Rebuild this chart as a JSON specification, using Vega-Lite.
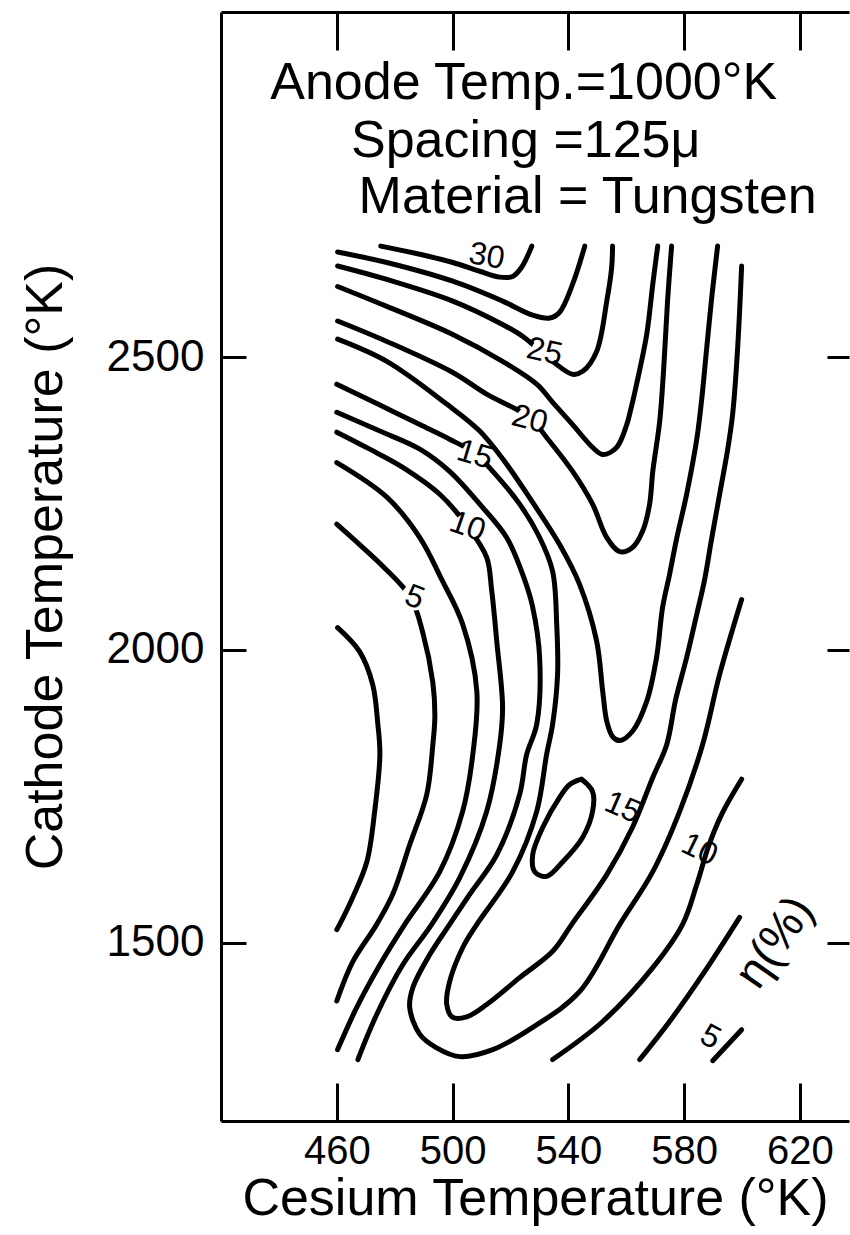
{
"$schema": "https://vega.github.io/schema/vega-lite/v6.json",
"width": 628, "height": 1109,
"autosize": {"type": "none"},
"padding": {"left": 221, "top": 12, "right": 1, "bottom": 114},
"background": "white",
"config": {"view": {"stroke": null}, "font": "Liberation Sans",
 "axis": {"grid": false, "domainColor": "black", "domainWidth": 3, "tickColor": "black", "tickWidth": 3, "labelColor": "black", "titleColor": "black", "labelFont": "Liberation Sans", "titleFont": "Liberation Sans", "titleFontWeight": "normal", "labelFlush": false}},
"datasets": {
 "contours": [
{"c":"30","i":0,"x":475.2,"y":2690},{"c":"30","i":1,"x":488.7,"y":2676},{"c":"30","i":2,"x":500.1,"y":2662},{"c":"30","i":3,"x":509.4,"y":2647},{"c":"30","i":4,"x":516.3,"y":2637},{"c":"30","i":5,"x":520.8,"y":2638},{"c":"30","i":6,"x":523.9,"y":2654},{"c":"30","i":7,"x":527.4,"y":2690},
{"c":"27.5","i":0,"x":460.3,"y":2680},{"c":"27.5","i":1,"x":477.3,"y":2662},{"c":"27.5","i":2,"x":500.1,"y":2630},{"c":"27.5","i":3,"x":517.3,"y":2596},{"c":"27.5","i":4,"x":527.7,"y":2572},{"c":"27.5","i":5,"x":533.6,"y":2567},{"c":"27.5","i":6,"x":537.0,"y":2577},{"c":"27.5","i":7,"x":541.5,"y":2625},{"c":"27.5","i":8,"x":545.7,"y":2690},
{"c":"25","i":0,"x":460.3,"y":2656},{"c":"25","i":1,"x":477.3,"y":2633},{"c":"25","i":2,"x":500.1,"y":2596},{"c":"25","i":3,"x":517.3,"y":2556},{"c":"25","i":4,"x":524.2,"y":2536},{"c":"25","i":5,"x":534.6,"y":2493},{"c":"25","i":6,"x":541.5,"y":2471},{"c":"25","i":7,"x":545.0,"y":2476},{"c":"25","i":8,"x":549.8,"y":2510},{"c":"25","i":9,"x":553.3,"y":2596},{"c":"25","i":10,"x":555.0,"y":2654},{"c":"25","i":11,"x":555.3,"y":2690},
{"c":"22.5","i":0,"x":460.3,"y":2621},{"c":"22.5","i":1,"x":477.3,"y":2587},{"c":"22.5","i":2,"x":500.1,"y":2539},{"c":"22.5","i":3,"x":517.3,"y":2493},{"c":"22.5","i":4,"x":529.1,"y":2454},{"c":"22.5","i":5,"x":534.6,"y":2423},{"c":"22.5","i":6,"x":541.5,"y":2385},{"c":"22.5","i":7,"x":548.4,"y":2346},{"c":"22.5","i":8,"x":551.9,"y":2334},{"c":"22.5","i":9,"x":556.7,"y":2346},{"c":"22.5","i":10,"x":560.2,"y":2385},{"c":"22.5","i":11,"x":561.6,"y":2411},{"c":"22.5","i":12,"x":563.6,"y":2454},{"c":"22.5","i":13,"x":567.1,"y":2539},{"c":"22.5","i":14,"x":569.2,"y":2625},{"c":"22.5","i":15,"x":570.9,"y":2690},
{"c":"20","i":0,"x":460.3,"y":2562},{"c":"20","i":1,"x":477.3,"y":2527},{"c":"20","i":2,"x":500.1,"y":2474},{"c":"20","i":3,"x":511.8,"y":2437},{"c":"20","i":4,"x":526.7,"y":2397},{"c":"20","i":5,"x":532.5,"y":2363},{"c":"20","i":6,"x":541.5,"y":2305},{"c":"20","i":7,"x":548.4,"y":2249},{"c":"20","i":8,"x":553.3,"y":2192},{"c":"20","i":9,"x":557.8,"y":2168},{"c":"20","i":10,"x":562.2,"y":2175},{"c":"20","i":11,"x":565.7,"y":2203},{"c":"20","i":12,"x":568.1,"y":2249},{"c":"20","i":13,"x":569.2,"y":2305},{"c":"20","i":14,"x":571.6,"y":2391},{"c":"20","i":15,"x":573.0,"y":2483},{"c":"20","i":16,"x":574.3,"y":2596},{"c":"20","i":17,"x":575.7,"y":2690},
{"c":"17.5","i":0,"x":460.3,"y":2531},{"c":"17.5","i":1,"x":477.3,"y":2493},{"c":"17.5","i":2,"x":498.0,"y":2420},{"c":"17.5","i":3,"x":509.4,"y":2374},{"c":"17.5","i":4,"x":518.0,"y":2322},{"c":"17.5","i":5,"x":527.7,"y":2252},{"c":"17.5","i":6,"x":537.0,"y":2180},{"c":"17.5","i":7,"x":543.9,"y":2112},{"c":"17.5","i":8,"x":549.8,"y":2015},{"c":"17.5","i":9,"x":551.9,"y":1929},{"c":"17.5","i":10,"x":553.3,"y":1878},{"c":"17.5","i":11,"x":555.3,"y":1852},{"c":"17.5","i":12,"x":557.8,"y":1845},{"c":"17.5","i":13,"x":562.2,"y":1861},{"c":"17.5","i":14,"x":567.1,"y":1912},{"c":"17.5","i":15,"x":570.5,"y":1987},{"c":"17.5","i":16,"x":572.6,"y":2073},{"c":"17.5","i":17,"x":575.0,"y":2129},{"c":"17.5","i":18,"x":577.4,"y":2189},{"c":"17.5","i":19,"x":580.9,"y":2266},{"c":"17.5","i":20,"x":584.4,"y":2360},{"c":"17.5","i":21,"x":586.1,"y":2428},{"c":"17.5","i":22,"x":587.8,"y":2514},{"c":"17.5","i":23,"x":589.5,"y":2599},{"c":"17.5","i":24,"x":591.6,"y":2690},
{"c":"15","i":0,"x":460.0,"y":2454},{"c":"15","i":1,"x":474.2,"y":2420},{"c":"15","i":2,"x":488.7,"y":2385},{"c":"15","i":3,"x":499.0,"y":2360},{"c":"15","i":4,"x":507.7,"y":2336},{"c":"15","i":5,"x":513.9,"y":2305},{"c":"15","i":6,"x":523.2,"y":2249},{"c":"15","i":7,"x":530.1,"y":2192},{"c":"15","i":8,"x":534.6,"y":2134},{"c":"15","i":9,"x":536.0,"y":2044},{"c":"15","i":10,"x":536.3,"y":1958},{"c":"15","i":11,"x":534.6,"y":1873},{"c":"15","i":12,"x":532.5,"y":1821},{"c":"15","i":13,"x":529.1,"y":1724},{"c":"15","i":14,"x":520.8,"y":1621},{"c":"15","i":15,"x":508.4,"y":1531},{"c":"15","i":16,"x":503.5,"y":1491},{"c":"15","i":17,"x":499.0,"y":1433},{"c":"15","i":18,"x":498.0,"y":1394},{"c":"15","i":19,"x":500.1,"y":1372},{"c":"15","i":20,"x":504.9,"y":1373},{"c":"15","i":21,"x":511.8,"y":1394},{"c":"15","i":22,"x":523.2,"y":1440},{"c":"15","i":23,"x":534.6,"y":1485},{"c":"15","i":24,"x":541.2,"y":1531},{"c":"15","i":25,"x":553.3,"y":1616},{"c":"15","i":26,"x":562.2,"y":1697},{"c":"15","i":27,"x":569.2,"y":1782},{"c":"15","i":28,"x":574.0,"y":1838},{"c":"15","i":29,"x":577.1,"y":1915},{"c":"15","i":30,"x":580.9,"y":1987},{"c":"15","i":31,"x":584.4,"y":2061},{"c":"15","i":32,"x":587.1,"y":2120},{"c":"15","i":33,"x":589.5,"y":2189},{"c":"15","i":34,"x":592.3,"y":2266},{"c":"15","i":35,"x":595.1,"y":2343},{"c":"15","i":36,"x":596.8,"y":2403},{"c":"15","i":37,"x":598.5,"y":2514},{"c":"15","i":38,"x":599.9,"y":2656},
{"c":"12.5","i":0,"x":460.0,"y":2406},{"c":"12.5","i":1,"x":474.9,"y":2374},{"c":"12.5","i":2,"x":488.7,"y":2343},{"c":"12.5","i":3,"x":499.0,"y":2305},{"c":"12.5","i":4,"x":509.4,"y":2249},{"c":"12.5","i":5,"x":518.7,"y":2192},{"c":"12.5","i":6,"x":524.9,"y":2120},{"c":"12.5","i":7,"x":527.7,"y":2073},{"c":"12.5","i":8,"x":530.1,"y":1987},{"c":"12.5","i":9,"x":529.1,"y":1873},{"c":"12.5","i":10,"x":525.6,"y":1821},{"c":"12.5","i":11,"x":523.2,"y":1753},{"c":"12.5","i":12,"x":515.3,"y":1650},{"c":"12.5","i":13,"x":505.9,"y":1582},{"c":"12.5","i":14,"x":499.0,"y":1531},{"c":"12.5","i":15,"x":492.1,"y":1479},{"c":"12.5","i":16,"x":486.3,"y":1423},{"c":"12.5","i":17,"x":485.2,"y":1389},{"c":"12.5","i":18,"x":488.7,"y":1343},{"c":"12.5","i":19,"x":494.5,"y":1320},{"c":"12.5","i":20,"x":502.5,"y":1305},{"c":"12.5","i":21,"x":513.9,"y":1317},{"c":"12.5","i":22,"x":527.7,"y":1355},{"c":"12.5","i":23,"x":543.9,"y":1416},{"c":"12.5","i":24,"x":557.8,"y":1531},{"c":"12.5","i":25,"x":569.2,"y":1621},{"c":"12.5","i":26,"x":578.5,"y":1724},{"c":"12.5","i":27,"x":586.4,"y":1838},{"c":"12.5","i":28,"x":592.3,"y":1958},{"c":"12.5","i":29,"x":599.9,"y":2086},
{"c":"10a","i":0,"x":460.0,"y":2372},{"c":"10a","i":1,"x":471.4,"y":2343},{"c":"10a","i":2,"x":482.8,"y":2312},{"c":"10a","i":3,"x":495.6,"y":2266},{"c":"10a","i":4,"x":505.2,"y":2211},{"c":"10a","i":5,"x":511.8,"y":2158},{"c":"10a","i":6,"x":513.5,"y":2103},{"c":"10a","i":7,"x":515.3,"y":2014},{"c":"10a","i":8,"x":517.3,"y":1902},{"c":"10a","i":9,"x":516.3,"y":1838},{"c":"10a","i":10,"x":511.8,"y":1724},{"c":"10a","i":11,"x":502.5,"y":1611},{"c":"10a","i":12,"x":492.8,"y":1531},{"c":"10a","i":13,"x":482.8,"y":1462},{"c":"10a","i":14,"x":473.8,"y":1377},{"c":"10a","i":15,"x":467.3,"y":1300},
{"c":"10b","i":0,"x":534.6,"y":1300},{"c":"10b","i":1,"x":551.9,"y":1365},{"c":"10b","i":2,"x":569.2,"y":1457},{"c":"10b","i":3,"x":579.5,"y":1531},{"c":"10b","i":4,"x":584.4,"y":1599},{"c":"10b","i":5,"x":588.5,"y":1665},{"c":"10b","i":6,"x":593.0,"y":1719},{"c":"10b","i":7,"x":599.9,"y":1779},
{"c":"7.5a","i":0,"x":460.0,"y":2320},{"c":"7.5a","i":1,"x":477.3,"y":2261},{"c":"7.5a","i":2,"x":488.7,"y":2192},{"c":"7.5a","i":3,"x":496.3,"y":2120},{"c":"7.5a","i":4,"x":503.5,"y":2044},{"c":"7.5a","i":5,"x":508.4,"y":1929},{"c":"7.5a","i":6,"x":507.0,"y":1821},{"c":"7.5a","i":7,"x":503.5,"y":1724},{"c":"7.5a","i":8,"x":495.6,"y":1621},{"c":"7.5a","i":9,"x":483.5,"y":1531},{"c":"7.5a","i":10,"x":474.9,"y":1462},{"c":"7.5a","i":11,"x":466.9,"y":1389},{"c":"7.5a","i":12,"x":460.3,"y":1317},
{"c":"7.5b","i":0,"x":564.7,"y":1300},{"c":"7.5b","i":1,"x":575.0,"y":1365},{"c":"7.5b","i":2,"x":586.4,"y":1445},{"c":"7.5b","i":3,"x":599.2,"y":1543},
{"c":"5a","i":0,"x":460.0,"y":2215},{"c":"5a","i":1,"x":467.9,"y":2180},{"c":"5a","i":2,"x":475.9,"y":2143},{"c":"5a","i":3,"x":485.5,"y":2090},{"c":"5a","i":4,"x":489.7,"y":2030},{"c":"5a","i":5,"x":493.2,"y":1944},{"c":"5a","i":6,"x":493.9,"y":1886},{"c":"5a","i":7,"x":493.2,"y":1838},{"c":"5a","i":8,"x":491.1,"y":1753},{"c":"5a","i":9,"x":485.2,"y":1667},{"c":"5a","i":10,"x":479.3,"y":1582},{"c":"5a","i":11,"x":473.8,"y":1531},{"c":"5a","i":12,"x":465.5,"y":1467},{"c":"5a","i":13,"x":460.0,"y":1400},
{"c":"5b","i":0,"x":589.9,"y":1298},{"c":"5b","i":1,"x":599.9,"y":1351},
{"c":"2.5","i":0,"x":460.3,"y":2038},{"c":"2.5","i":1,"x":467.9,"y":1997},{"c":"2.5","i":2,"x":472.4,"y":1941},{"c":"2.5","i":3,"x":474.2,"y":1873},{"c":"2.5","i":4,"x":474.9,"y":1821},{"c":"2.5","i":5,"x":473.1,"y":1724},{"c":"2.5","i":6,"x":470.4,"y":1638},{"c":"2.5","i":7,"x":465.5,"y":1577},{"c":"2.5","i":8,"x":461.0,"y":1531},{"c":"2.5","i":9,"x":460.0,"y":1522},
{"c":"17.5i","i":0,"x":544.6,"y":1779},{"c":"17.5i","i":1,"x":548.4,"y":1758},{"c":"17.5i","i":2,"x":548.4,"y":1724},{"c":"17.5i","i":3,"x":545.0,"y":1680},{"c":"17.5i","i":4,"x":538.1,"y":1638},{"c":"17.5i","i":5,"x":532.5,"y":1613},{"c":"17.5i","i":6,"x":528.4,"y":1621},{"c":"17.5i","i":7,"x":527.7,"y":1650},{"c":"17.5i","i":8,"x":531.2,"y":1697},{"c":"17.5i","i":9,"x":537.0,"y":1748},{"c":"17.5i","i":10,"x":540.5,"y":1770},{"c":"17.5i","i":11,"x":544.6,"y":1779}
 ],
 "labels": [
  {"id":"l30","t":"30","x":511.8,"y":2673},
  {"id":"l25","t":"25","x":531.8,"y":2510},
  {"id":"l20","t":"20","x":526.7,"y":2394},
  {"id":"l15a","t":"15","x":507.7,"y":2334},
  {"id":"l10a","t":"10","x":505.2,"y":2211},
  {"id":"l5a","t":"5","x":486.9,"y":2090},
  {"id":"l15b","t":"15","x":558.8,"y":1731},
  {"id":"l10b","t":"10","x":585.4,"y":1659},
  {"id":"l5b","t":"5","x":589.2,"y":1339}
 ],
 "symbol": [{"t":"η(%)","x":611.5,"y":1500}],
 "notes": [
  {"t":"Anode Temp.=1000°K","x":524.6,"y":2968},
  {"t":"Spacing =125μ","x":525.3,"y":2870},
  {"t":"Material = Tungsten","x":546.7,"y":2774}
 ]
},
"layer": [
 {"data": {"name": "contours"},
  "mark": {"type": "line", "color": "black", "strokeWidth": 5, "interpolate": "catmull-rom", "strokeCap": "round", "strokeJoin": "round"},
  "encoding": {
   "x": {"field": "x", "type": "quantitative", "scale": {"domain": [420, 637], "nice": false, "zero": false},
    "axis": {"orient": "bottom", "values": [460, 500, 540, 580, 620], "format": "d", "tickSize": -38, "labelPadding": 48, "labelFontSize": 40, "title": "Cesium Temperature (°K)", "titleFontSize": 52, "titlePadding": 2}},
   "y": {"field": "y", "type": "quantitative", "scale": {"domain": [1195, 3090], "nice": false, "zero": false},
    "axis": {"orient": "left", "values": [1500, 2000, 2500], "format": "d", "tickSize": -25, "labelPadding": 42, "labelFontSize": 44, "title": "Cathode Temperature (°K)", "titleFontSize": 52, "titlePadding": 34}},
   "detail": {"field": "c"},
   "order": {"field": "i", "type": "quantitative"}
  }},
 {"data": {"name": "labels"},
  "transform": [{"filter": {"field": "id", "oneOf": ["l25", "l20", "l15a", "l10a", "l5a"]}}],
  "mark": {"type": "point", "filled": true, "color": "white", "opacity": 1, "size": 700, "strokeWidth": 0},
  "encoding": {
   "x": {"field": "x", "type": "quantitative", "axis": null},
   "y": {"field": "y", "type": "quantitative", "axis": null}
  }},
 {"data": {"name": "labels"},
  "mark": {"type": "text", "fontSize": 32, "color": "black", "align": "center", "baseline": "middle"},
  "encoding": {
   "x": {"field": "x", "type": "quantitative", "axis": null},
   "y": {"field": "y", "type": "quantitative", "axis": null},
   "text": {"field": "t"},
   "angle": {"field": "id", "type": "nominal", "legend": null, "scale": {"domain": ["l30", "l25", "l20", "l15a", "l10a", "l5a", "l15b", "l10b", "l5b"], "range": [10, 28, 35, 62, 62, 58, -62, -65, -60]}}
  }},
 {"data": {"name": "symbol"},
  "mark": {"type": "text", "fontSize": 47, "color": "black", "align": "center", "baseline": "middle", "angle": -55},
  "encoding": {
   "x": {"field": "x", "type": "quantitative", "axis": null},
   "y": {"field": "y", "type": "quantitative", "axis": null},
   "text": {"field": "t"}
  }},
 {"data": {"name": "notes"},
  "mark": {"type": "text", "fontSize": 52, "color": "black", "align": "center", "baseline": "middle"},
  "encoding": {
   "x": {"field": "x", "type": "quantitative", "axis": {"orient": "top", "values": [460, 500, 540, 580, 620], "tickSize": -38, "labels": false, "title": null, "domain": true}},
   "y": {"field": "y", "type": "quantitative", "axis": {"orient": "right", "values": [1500, 2000, 2500], "tickSize": -22, "labels": false, "title": null, "domain": false}},
   "text": {"field": "t"}
  }}
],
"resolve": {"axis": {"x": "independent", "y": "independent"}}
}
